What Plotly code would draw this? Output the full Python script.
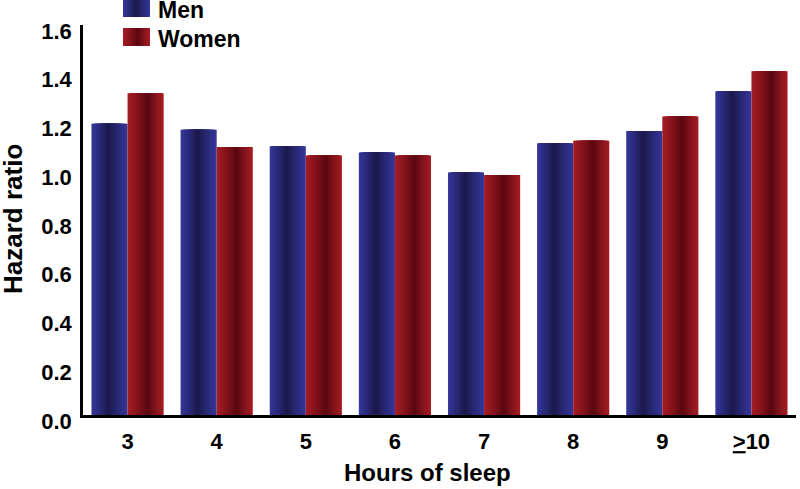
import plotly.graph_objects as go

# data
hours = ["3", "4", "5", "6", "7", "8", "9", "<u>></u>10"]
men = [1.195, 1.17, 1.103, 1.077, 0.995, 1.115, 1.165, 1.328]
women = [1.32, 1.10, 1.065, 1.065, 0.985, 1.125, 1.225, 1.41]
series_names = ["Men", "Women"]

FONT = "Liberation Sans, Arial, sans-serif"
N_LAYERS = 14
GROUP = 0.81  # fraction of the category taken by both bars

# light edge / dark core colours and where the dark core sits across the bar
SHADES = {
    "Men": ((52, 54, 152), (24, 22, 66), 0.47),
    "Women": ((164, 28, 36), (82, 5, 14), 0.55),
}

# plot area in pixels (800 x 489 page)
L, R, T, B = 83, 4, 25, 74
W, H = 800, 489


def layer_colour(name, s):
    # s = 1 outermost (light) ... s -> 0 innermost (dark)
    light, dark, _ = SHADES[name]
    w = s ** 0.8
    rgb = [round(d + (l - d) * w) for l, d in zip(light, dark)]
    return "rgb({},{},{})".format(*rgb)


def layers(name):
    # nested intervals (fractions of one bar) shrinking towards the dark core
    core = SHADES[name][2]
    out = []
    for i in range(N_LAYERS):
        s = 1 - i / N_LAYERS
        out.append((core - core * s, core + (1 - core) * s, s))
    return out


fig = go.Figure()
half = GROUP / 2
for k, (name, vals) in enumerate(zip(series_names, [men, women])):
    start = -half + k * half
    for a, b, s in layers(name):
        fig.add_trace(go.Bar(
            x=hours, y=vals, name=name,
            width=(b - a) * half, offset=start + a * half,
            marker=dict(color=layer_colour(name, s), line=dict(width=0)),
            showlegend=False, hoverinfo="skip",
        ))


def px_x(p):
    return (p - L) / (W - L - R)


def px_y(p):
    return (H - B - p) / (H - T - B)


# hand-made legend with shaded swatches
legend_rows = [("Men", 0, 17), ("Women", 28, 46)]
shapes = []
annotations = []
for name, top, bot in legend_rows:
    x0, x1 = 123, 150
    for a, b, s in layers(name):
        shapes.append(dict(
            type="rect", xref="paper", yref="paper",
            x0=px_x(x0 + a * (x1 - x0)), x1=px_x(x0 + b * (x1 - x0)),
            y0=px_y(bot), y1=px_y(top),
            fillcolor=layer_colour(name, s), line=dict(width=0), layer="above",
        ))
    annotations.append(dict(
        text="<b>%s</b>" % name, xref="paper", yref="paper",
        x=px_x(156), y=px_y((top + bot) / 2 + 2), xanchor="left", yanchor="middle",
        showarrow=False, font=dict(family=FONT, size=23, color="black"),
    ))

# axis titles placed as annotations to match the reference positions
annotations.append(dict(
    text="<b>Hours of sleep</b>", xref="paper", yref="paper",
    x=px_x(427), y=px_y(473), xanchor="center", yanchor="middle",
    showarrow=False, font=dict(family=FONT, size=24, color="black"),
))
annotations.append(dict(
    text="<b>Hazard ratio</b>", xref="paper", yref="paper", textangle=-90,
    x=px_x(13), y=px_y(219), xanchor="center", yanchor="middle",
    showarrow=False, font=dict(family=FONT, size=26, color="black"),
))

fig.update_layout(
    barmode="overlay",
    width=W, height=H,
    margin=dict(l=L, r=R, t=T, b=B),
    plot_bgcolor="white", paper_bgcolor="white",
    shapes=shapes, annotations=annotations,
    font=dict(family=FONT, color="black"),
    xaxis=dict(
        type="category", range=[-0.5, len(hours) - 0.5], automargin=False,
        showline=True, linecolor="black", linewidth=2.5,
        showgrid=False, ticks="", ticklabelstandoff=5,
        tickfont=dict(family=FONT, size=22, color="black", weight="bold"),
    ),
    yaxis=dict(
        range=[0, 1.6], tickvals=[0, 0.2, 0.4, 0.6, 0.8, 1.0, 1.2, 1.4, 1.6],
        tickformat=".1f", automargin=False,
        showline=True, linecolor="black", linewidth=2.5,
        showgrid=False, zeroline=False, ticks="",
        ticklabelshift=6, ticklabelstandoff=4,
        tickfont=dict(family=FONT, size=22, color="black", weight="bold"),
    ),
)

# drop the default 8px page margin so the figure fills the window exactly
fig.write_html("out.html", config={"displayModeBar": False},
               post_script="document.body.style.margin = '0';")
